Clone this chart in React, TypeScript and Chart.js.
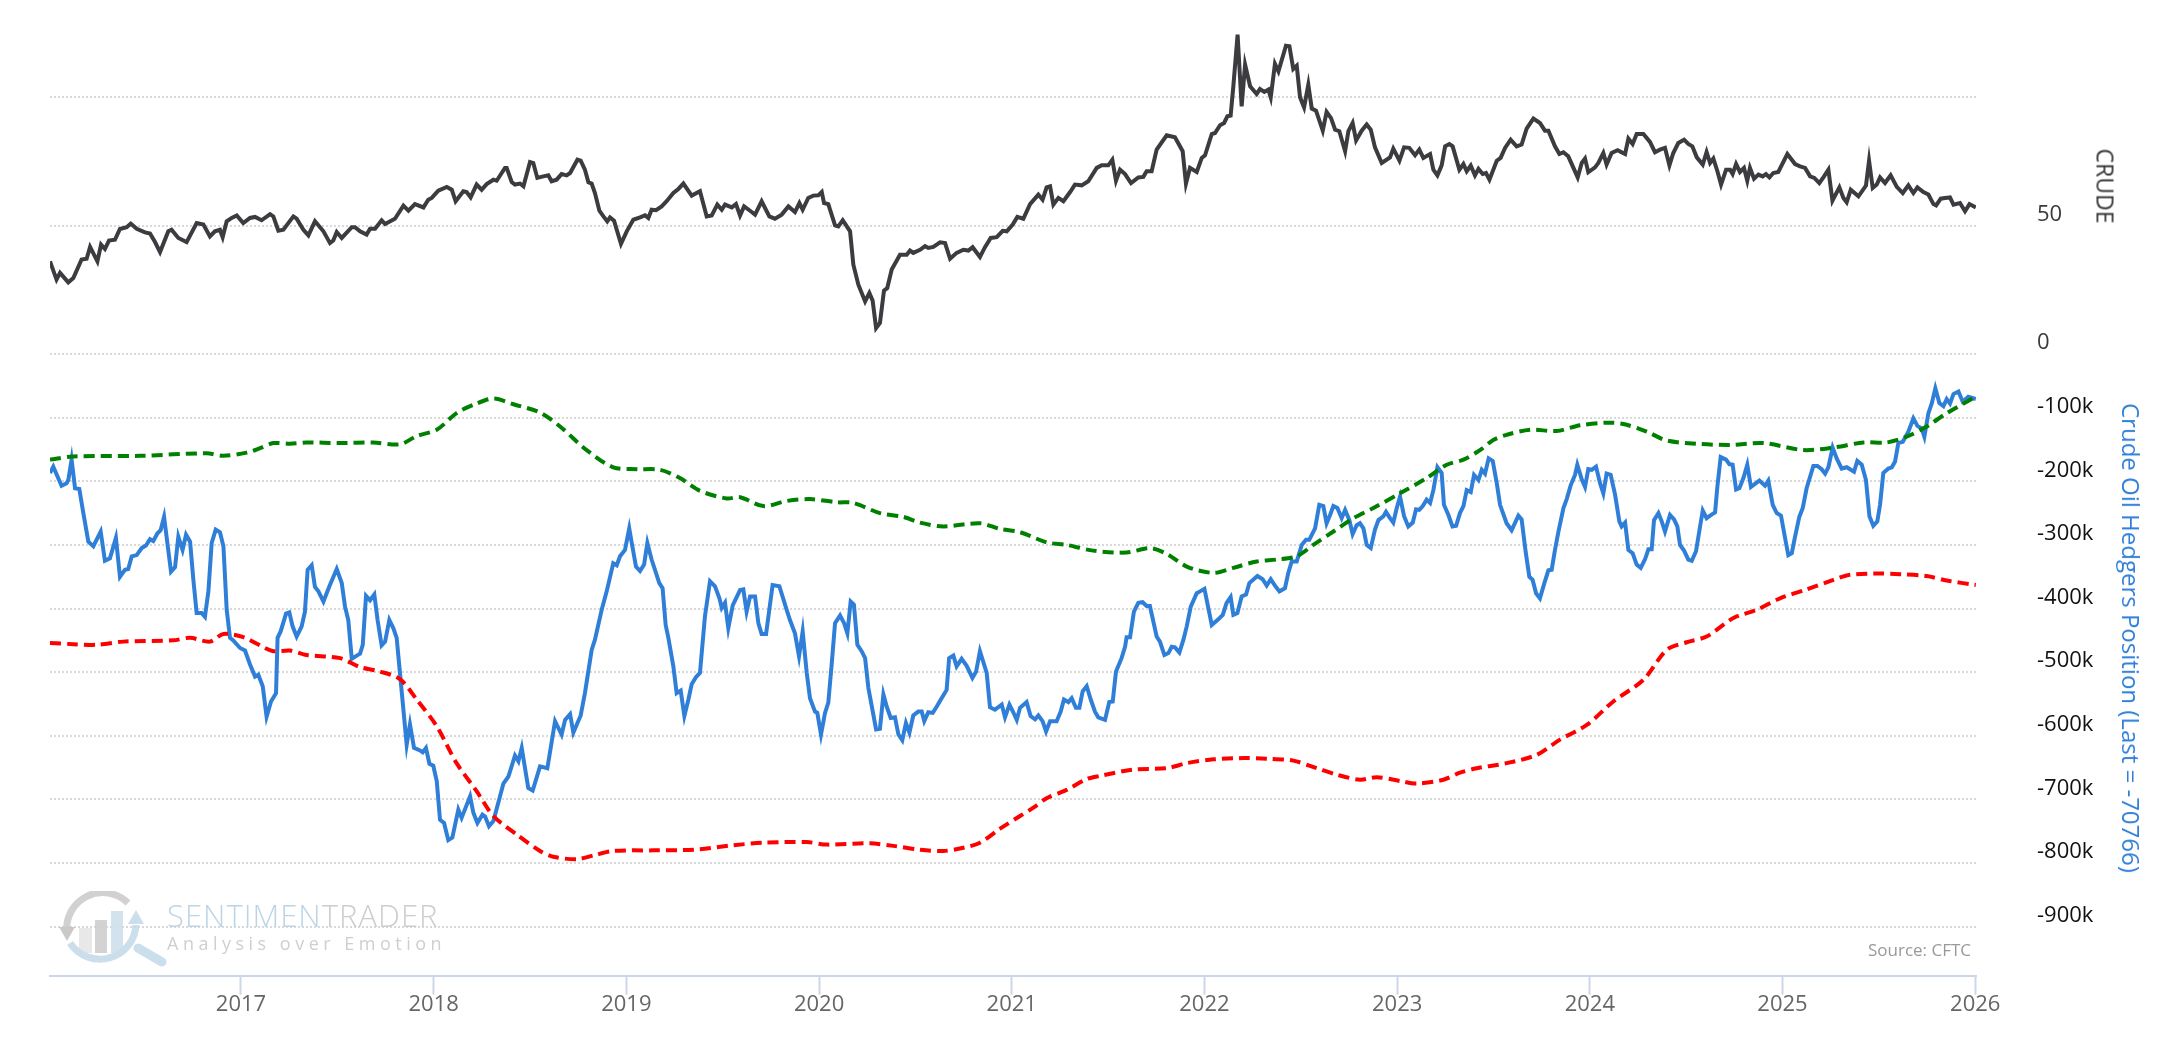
import React, { useEffect, useRef } from 'react';
import { Chart, registerables } from 'chart.js';

Chart.register(...registerables);

// ---------------- data ----------------
const yearTicks = [2017, 2018, 2019, 2020, 2021, 2022, 2023, 2024, 2025, 2026];
const crudeTicks = [0, 50, 100];
const crudeLabeled = [0, 50];
const hedgerTicks = [-100, -200, -300, -400, -500, -600, -700, -800, -900];
const lastHedger = -70766;

// [decimal year, price]
const crude: [number, number][] = [
  [2016.009, 36.1], [2016.043, 29.0], [2016.061, 31.6], [2016.104, 27.9], [2016.13, 29.6], [2016.173, 36.8], [2016.199, 37.1], [2016.217, 41.7], [2016.255, 36.1], [2016.274, 42.6], [2016.294, 40.9], [2016.315, 44.2], [2016.346, 44.5], [2016.372, 48.7], [2016.407, 49.4], [2016.428, 50.8], [2016.459, 48.8], [2016.502, 47.4], [2016.528, 46.9], [2016.554, 43.6], [2016.58, 39.7], [2016.623, 47.8], [2016.64, 48.4], [2016.675, 45.2], [2016.718, 43.6], [2016.77, 51.0], [2016.805, 50.4], [2016.839, 45.8], [2016.865, 47.8], [2016.891, 48.4], [2016.905, 45.5], [2016.926, 51.7], [2016.952, 53.0], [2016.978, 54.0],
  [2017.012, 51.0], [2017.047, 53.0], [2017.073, 53.4], [2017.107, 52.1], [2017.151, 54.5], [2017.168, 53.6], [2017.194, 48.0], [2017.22, 48.4], [2017.272, 53.6], [2017.289, 52.7], [2017.324, 48.4], [2017.35, 46.2], [2017.384, 51.7], [2017.428, 47.8], [2017.462, 43.2], [2017.479, 44.2], [2017.497, 47.5], [2017.523, 45.2], [2017.575, 49.4], [2017.592, 49.4], [2017.618, 47.8], [2017.652, 46.5], [2017.67, 48.8], [2017.696, 48.8], [2017.73, 52.1], [2017.748, 50.6], [2017.799, 52.7], [2017.843, 57.8], [2017.869, 55.8], [2017.903, 58.4], [2017.947, 57.1], [2017.972, 60.1], [2017.99, 60.8],
  [2018.024, 63.6], [2018.068, 65.1], [2018.094, 64.0], [2018.114, 59.5], [2018.154, 63.4], [2018.171, 63.1], [2018.192, 61.0], [2018.223, 66.0], [2018.249, 64.0], [2018.275, 66.2], [2018.31, 67.9], [2018.327, 67.5], [2018.37, 72.5], [2018.379, 72.5], [2018.405, 67.0], [2018.422, 66.0], [2018.448, 66.4], [2018.466, 65.3], [2018.5, 74.8], [2018.517, 74.4], [2018.538, 68.6], [2018.569, 69.2], [2018.595, 69.6], [2018.612, 67.3], [2018.638, 67.9], [2018.664, 70.1], [2018.69, 69.6], [2018.708, 70.5], [2018.746, 75.7], [2018.763, 75.3], [2018.785, 71.8], [2018.803, 66.9], [2018.82, 66.4], [2018.837, 62.7], [2018.86, 55.8], [2018.881, 53.6], [2018.901, 51.7], [2018.915, 53.2], [2018.936, 51.9], [2018.972, 42.9],
  [2019.002, 47.8], [2019.036, 52.3], [2019.071, 53.2], [2019.097, 54.0], [2019.114, 53.0], [2019.131, 56.2], [2019.154, 56.0], [2019.183, 57.5], [2019.209, 59.5], [2019.244, 62.7], [2019.27, 64.3], [2019.296, 66.4], [2019.339, 61.7], [2019.382, 63.4], [2019.417, 53.6], [2019.443, 54.0], [2019.472, 58.2], [2019.495, 56.2], [2019.512, 58.2], [2019.547, 57.1], [2019.569, 58.4], [2019.59, 53.9], [2019.611, 57.5], [2019.642, 55.8], [2019.668, 54.3], [2019.702, 59.5], [2019.742, 53.6], [2019.771, 52.7], [2019.806, 54.3], [2019.841, 57.5], [2019.875, 55.3], [2019.898, 58.8], [2019.915, 56.2], [2019.944, 60.8], [2019.97, 61.7], [2019.996, 61.8],
  [2020.014, 63.1], [2020.026, 58.8], [2020.048, 58.4], [2020.083, 50.1], [2020.1, 49.7], [2020.123, 52.1], [2020.161, 47.8], [2020.178, 34.8], [2020.204, 27.0], [2020.239, 20.5], [2020.261, 23.8], [2020.278, 20.8], [2020.296, 10.1], [2020.316, 12.1], [2020.337, 24.7], [2020.354, 25.7], [2020.377, 32.9], [2020.42, 38.7], [2020.455, 38.7], [2020.472, 40.3], [2020.489, 39.4], [2020.524, 40.6], [2020.55, 42.0], [2020.567, 41.3], [2020.593, 41.7], [2020.628, 43.5], [2020.654, 43.2], [2020.68, 37.1], [2020.714, 39.4], [2020.749, 40.6], [2020.775, 40.3], [2020.797, 41.6], [2020.835, 37.8], [2020.861, 41.6], [2020.891, 45.2], [2020.922, 45.5], [2020.953, 48.0], [2020.974, 47.8],
  [2021.005, 50.4], [2021.029, 53.4], [2021.06, 52.7], [2021.095, 58.4], [2021.138, 62.1], [2021.16, 60.1], [2021.181, 64.9], [2021.199, 65.3], [2021.216, 58.2], [2021.242, 60.8], [2021.268, 59.5], [2021.302, 63.0], [2021.328, 66.0], [2021.363, 65.7], [2021.397, 67.3], [2021.441, 72.5], [2021.467, 73.5], [2021.501, 73.5], [2021.522, 75.7], [2021.541, 67.5], [2021.562, 71.8], [2021.588, 70.1], [2021.619, 66.6], [2021.657, 68.8], [2021.683, 69.0], [2021.7, 71.2], [2021.726, 71.2], [2021.752, 79.6], [2021.804, 85.2], [2021.847, 84.4], [2021.887, 79.0], [2021.904, 66.4], [2021.925, 72.5], [2021.96, 70.9], [2021.986, 76.4],
  [2022.003, 77.4], [2022.038, 85.7], [2022.055, 86.1], [2022.081, 89.1], [2022.102, 90.0], [2022.119, 92.6], [2022.136, 92.9], [2022.15, 104.3], [2022.172, 124.4], [2022.193, 96.5], [2022.211, 112.7], [2022.237, 104.3], [2022.271, 101.3], [2022.288, 103.2], [2022.311, 102.1], [2022.332, 103.0], [2022.344, 100.0], [2022.366, 113.0], [2022.384, 110.1], [2022.423, 120.1], [2022.441, 119.9], [2022.461, 111.0], [2022.479, 112.3], [2022.496, 100.0], [2022.517, 96.1], [2022.539, 104.9], [2022.557, 95.6], [2022.579, 94.8], [2022.614, 87.0], [2022.634, 94.3], [2022.657, 91.9], [2022.678, 87.4], [2022.7, 86.8], [2022.73, 79.0], [2022.747, 86.8], [2022.769, 90.0], [2022.787, 83.2], [2022.816, 87.0], [2022.842, 89.4], [2022.863, 87.4], [2022.885, 80.5], [2022.92, 74.4], [2022.963, 76.6], [2022.98, 80.0],
  [2023.012, 75.3], [2023.036, 80.5], [2023.063, 80.3], [2023.093, 77.4], [2023.115, 79.6], [2023.136, 76.4], [2023.171, 77.9], [2023.188, 71.8], [2023.209, 69.6], [2023.231, 73.5], [2023.249, 80.9], [2023.271, 81.8], [2023.288, 80.9], [2023.323, 71.8], [2023.344, 74.0], [2023.361, 71.2], [2023.382, 73.4], [2023.404, 69.6], [2023.422, 72.1], [2023.444, 70.1], [2023.461, 70.5], [2023.479, 67.9], [2023.517, 75.3], [2023.537, 76.4], [2023.56, 80.3], [2023.589, 83.5], [2023.62, 80.9], [2023.646, 81.6], [2023.672, 87.8], [2023.707, 91.7], [2023.741, 90.0], [2023.767, 87.0], [2023.785, 87.0], [2023.819, 80.9], [2023.842, 77.9], [2023.863, 78.6], [2023.888, 77.0], [2023.937, 68.8], [2023.958, 74.4], [2023.975, 76.1], [2023.992, 70.8],
  [2024.027, 72.7], [2024.044, 74.4], [2024.07, 78.3], [2024.087, 73.8], [2024.113, 78.3], [2024.144, 79.4], [2024.183, 77.9], [2024.2, 83.9], [2024.222, 81.8], [2024.243, 85.7], [2024.278, 85.7], [2024.312, 82.6], [2024.338, 78.6], [2024.364, 79.6], [2024.39, 80.3], [2024.413, 73.5], [2024.433, 78.3], [2024.459, 82.2], [2024.489, 83.5], [2024.511, 81.8], [2024.532, 80.9], [2024.555, 76.6], [2024.586, 73.8], [2024.606, 78.7], [2024.624, 74.4], [2024.641, 76.1], [2024.662, 71.2], [2024.681, 66.0], [2024.707, 71.8], [2024.728, 71.8], [2024.741, 70.1], [2024.759, 74.0], [2024.779, 70.9], [2024.8, 72.5], [2024.817, 67.5], [2024.831, 72.5], [2024.852, 68.3], [2024.875, 69.9], [2024.897, 69.2], [2024.914, 70.1], [2024.932, 68.8], [2024.952, 70.5], [2024.978, 70.9],
  [2025.025, 77.9], [2025.065, 74.0], [2025.091, 73.1], [2025.117, 72.5], [2025.143, 69.2], [2025.165, 68.6], [2025.191, 66.6], [2025.212, 68.8], [2025.238, 71.8], [2025.259, 59.7], [2025.295, 64.9], [2025.316, 60.8], [2025.333, 59.1], [2025.354, 64.0], [2025.394, 61.4], [2025.433, 65.6], [2025.449, 75.3], [2025.468, 64.7], [2025.489, 66.0], [2025.506, 68.8], [2025.532, 66.6], [2025.561, 69.6], [2025.593, 65.1], [2025.624, 62.7], [2025.653, 65.7], [2025.679, 62.7], [2025.7, 64.9], [2025.731, 63.1], [2025.757, 62.1], [2025.783, 58.4], [2025.797, 57.9], [2025.821, 60.5], [2025.843, 60.8], [2025.869, 61.0], [2025.887, 58.2], [2025.921, 58.8], [2025.947, 55.6], [2025.97, 58.4], [2026.003, 57.1],
];

// [decimal year, thousands of contracts]
const hedgers: [number, number][] = [
  [2016.009, -187], [2016.026, -177], [2016.069, -207], [2016.095, -203], [2016.104, -198], [2016.121, -166], [2016.139, -211], [2016.161, -212], [2016.182, -250], [2016.208, -295], [2016.234, -302], [2016.272, -279], [2016.294, -325], [2016.32, -321], [2016.351, -289], [2016.372, -350], [2016.398, -339], [2016.415, -338], [2016.433, -318], [2016.459, -316], [2016.485, -305], [2016.507, -301], [2016.528, -291], [2016.545, -294], [2016.566, -282], [2016.583, -277], [2016.601, -256], [2016.614, -287], [2016.637, -342], [2016.658, -335], [2016.675, -287], [2016.697, -308], [2016.715, -284], [2016.736, -295], [2016.753, -355], [2016.77, -407], [2016.796, -407], [2016.813, -413], [2016.831, -373], [2016.848, -297], [2016.869, -276], [2016.891, -280], [2016.909, -302], [2016.926, -402], [2016.943, -446], [2016.96, -450], [2016.995, -462],
  [2017.021, -466], [2017.047, -488], [2017.073, -507], [2017.09, -504], [2017.113, -522], [2017.133, -570], [2017.156, -546], [2017.182, -533], [2017.19, -446], [2017.206, -436], [2017.234, -408], [2017.251, -406], [2017.268, -428], [2017.289, -444], [2017.315, -428], [2017.332, -405], [2017.346, -339], [2017.367, -332], [2017.384, -366], [2017.402, -373], [2017.428, -389], [2017.459, -365], [2017.497, -338], [2017.523, -360], [2017.54, -397], [2017.557, -418], [2017.575, -479], [2017.601, -474], [2017.618, -471], [2017.632, -457], [2017.649, -380], [2017.67, -387], [2017.692, -378], [2017.709, -418], [2017.73, -458], [2017.748, -452], [2017.77, -418], [2017.791, -431], [2017.808, -446], [2017.825, -501], [2017.843, -559], [2017.86, -614], [2017.877, -582], [2017.898, -619], [2017.929, -623], [2017.943, -626], [2017.96, -619], [2017.978, -644], [2017.998, -647],
  [2018.016, -671], [2018.033, -732], [2018.054, -737], [2018.076, -764], [2018.097, -760], [2018.128, -716], [2018.145, -729], [2018.189, -695], [2018.206, -721], [2018.227, -737], [2018.253, -724], [2018.267, -727], [2018.287, -742], [2018.31, -734], [2018.362, -675], [2018.388, -664], [2018.422, -631], [2018.44, -640], [2018.457, -619], [2018.491, -682], [2018.514, -686], [2018.552, -648], [2018.59, -651], [2018.63, -577], [2018.664, -598], [2018.682, -575], [2018.708, -566], [2018.725, -595], [2018.763, -568], [2018.785, -533], [2018.82, -465], [2018.837, -449], [2018.872, -402], [2018.898, -373], [2018.932, -329], [2018.95, -332], [2018.967, -318], [2018.993, -308],
  [2019.015, -274], [2019.028, -297], [2019.05, -334], [2019.071, -341], [2019.092, -331], [2019.109, -297], [2019.131, -323], [2019.157, -347], [2019.171, -360], [2019.188, -368], [2019.204, -426], [2019.218, -446], [2019.244, -491], [2019.261, -533], [2019.282, -529], [2019.301, -569], [2019.322, -543], [2019.339, -519], [2019.361, -508], [2019.382, -501], [2019.408, -412], [2019.434, -357], [2019.46, -365], [2019.483, -384], [2019.495, -399], [2019.512, -391], [2019.529, -431], [2019.552, -395], [2019.59, -371], [2019.607, -370], [2019.624, -405], [2019.642, -381], [2019.668, -381], [2019.685, -423], [2019.702, -440], [2019.725, -440], [2019.759, -363], [2019.794, -365], [2019.832, -402], [2019.849, -418], [2019.875, -439], [2019.896, -475], [2019.915, -436], [2019.936, -501], [2019.953, -541], [2019.979, -562], [2019.991, -564],
  [2020.01, -598], [2020.031, -564], [2020.048, -548], [2020.066, -486], [2020.083, -423], [2020.109, -411], [2020.13, -423], [2020.147, -439], [2020.164, -389], [2020.181, -394], [2020.199, -457], [2020.221, -467], [2020.239, -478], [2020.256, -525], [2020.296, -590], [2020.316, -589], [2020.334, -535], [2020.351, -554], [2020.372, -572], [2020.394, -571], [2020.412, -598], [2020.432, -607], [2020.451, -580], [2020.469, -595], [2020.489, -568], [2020.515, -562], [2020.533, -562], [2020.546, -577], [2020.567, -563], [2020.59, -564], [2020.611, -554], [2020.636, -541], [2020.662, -528], [2020.675, -478], [2020.697, -474], [2020.714, -491], [2020.74, -479], [2020.766, -490], [2020.796, -509], [2020.815, -499], [2020.835, -467], [2020.87, -501], [2020.887, -555], [2020.913, -559], [2020.948, -551], [2020.965, -571], [2020.988, -551],
  [2021.008, -563], [2021.026, -575], [2021.043, -556], [2021.077, -547], [2021.098, -569], [2021.121, -574], [2021.138, -568], [2021.16, -577], [2021.178, -593], [2021.199, -577], [2021.233, -577], [2021.254, -562], [2021.271, -543], [2021.294, -547], [2021.311, -541], [2021.333, -556], [2021.351, -556], [2021.368, -530], [2021.389, -522], [2021.41, -543], [2021.432, -562], [2021.449, -571], [2021.484, -575], [2021.506, -547], [2021.524, -546], [2021.541, -499], [2021.57, -478], [2021.588, -460], [2021.596, -445], [2021.614, -445], [2021.634, -405], [2021.657, -391], [2021.679, -390], [2021.7, -396], [2021.717, -396], [2021.752, -444], [2021.769, -452], [2021.792, -473], [2021.813, -470], [2021.83, -460], [2021.847, -461], [2021.87, -469], [2021.891, -449], [2021.908, -428], [2021.929, -397], [2021.96, -376], [2021.977, -373],
  [2022.0, -369], [2022.02, -399], [2022.038, -426], [2022.072, -417], [2022.095, -410], [2022.115, -391], [2022.136, -382], [2022.15, -410], [2022.171, -407], [2022.193, -381], [2022.216, -378], [2022.233, -360], [2022.275, -349], [2022.302, -354], [2022.323, -364], [2022.344, -354], [2022.366, -364], [2022.389, -373], [2022.418, -368], [2022.435, -344], [2022.453, -326], [2022.479, -326], [2022.505, -300], [2022.527, -292], [2022.544, -292], [2022.574, -274], [2022.596, -237], [2022.617, -239], [2022.634, -266], [2022.652, -253], [2022.669, -239], [2022.69, -242], [2022.712, -258], [2022.73, -245], [2022.752, -261], [2022.769, -283], [2022.79, -269], [2022.807, -266], [2022.825, -274], [2022.842, -300], [2022.863, -305], [2022.885, -276], [2022.903, -261], [2022.929, -255], [2022.942, -248], [2022.963, -258], [2022.98, -265], [2022.998, -242],
  [2023.015, -224], [2023.036, -255], [2023.058, -271], [2023.081, -265], [2023.098, -244], [2023.115, -245], [2023.133, -239], [2023.153, -229], [2023.171, -234], [2023.188, -214], [2023.209, -178], [2023.231, -187], [2023.243, -237], [2023.266, -253], [2023.287, -271], [2023.306, -270], [2023.326, -250], [2023.344, -239], [2023.361, -214], [2023.382, -217], [2023.399, -190], [2023.422, -198], [2023.439, -182], [2023.456, -188], [2023.475, -164], [2023.496, -168], [2023.517, -203], [2023.534, -237], [2023.568, -266], [2023.594, -277], [2023.629, -254], [2023.646, -260], [2023.667, -311], [2023.686, -350], [2023.703, -355], [2023.721, -376], [2023.741, -384], [2023.764, -360], [2023.785, -340], [2023.802, -339], [2023.819, -308], [2023.837, -279], [2023.863, -242], [2023.88, -228], [2023.901, -206], [2023.923, -190], [2023.935, -174], [2023.958, -197], [2023.975, -209], [2023.992, -181],
  [2024.01, -182], [2024.032, -177], [2024.053, -203], [2024.07, -219], [2024.087, -188], [2024.108, -190], [2024.131, -221], [2024.153, -263], [2024.165, -271], [2024.183, -265], [2024.2, -308], [2024.222, -313], [2024.243, -331], [2024.264, -336], [2024.286, -323], [2024.304, -307], [2024.321, -307], [2024.333, -261], [2024.356, -250], [2024.373, -263], [2024.39, -279], [2024.416, -253], [2024.437, -260], [2024.454, -271], [2024.468, -300], [2024.489, -309], [2024.511, -323], [2024.529, -325], [2024.551, -310], [2024.572, -271], [2024.586, -246], [2024.606, -258], [2024.624, -254], [2024.65, -249], [2024.662, -208], [2024.679, -162], [2024.707, -166], [2024.724, -173], [2024.741, -174], [2024.759, -213], [2024.776, -211], [2024.797, -195], [2024.817, -174], [2024.836, -209], [2024.862, -203], [2024.88, -199], [2024.909, -207], [2024.926, -199], [2024.949, -237], [2024.97, -250], [2024.992, -254],
  [2025.018, -297], [2025.03, -316], [2025.048, -313], [2025.065, -287], [2025.087, -256], [2025.105, -242], [2025.125, -211], [2025.16, -176], [2025.181, -176], [2025.203, -181], [2025.221, -188], [2025.238, -178], [2025.26, -147], [2025.281, -164], [2025.307, -180], [2025.333, -178], [2025.371, -185], [2025.388, -168], [2025.411, -174], [2025.433, -198], [2025.451, -255], [2025.471, -270], [2025.492, -263], [2025.506, -237], [2025.523, -187], [2025.549, -180], [2025.567, -178], [2025.584, -169], [2025.601, -140], [2025.624, -138], [2025.653, -122], [2025.679, -101], [2025.7, -113], [2025.722, -117], [2025.736, -130], [2025.757, -93], [2025.774, -78], [2025.793, -54], [2025.814, -77], [2025.835, -82], [2025.852, -71], [2025.869, -78], [2025.887, -63], [2025.913, -59], [2025.935, -75], [2025.964, -67], [2026.003, -70.766],
];

// upper (green) band, thousands
const upperBand: [number, number][] = [
  [2016.009, -166], [2016.13, -161], [2016.476, -160], [2016.822, -156], [2016.909, -160], [2017.03, -155], [2017.099, -148], [2017.168, -140], [2017.255, -141], [2017.341, -139], [2017.514, -140], [2017.687, -139], [2017.825, -142], [2017.912, -129], [2018.016, -119], [2018.119, -93], [2018.206, -80], [2018.31, -70], [2018.414, -79], [2018.552, -92], [2018.656, -114], [2018.794, -151], [2018.932, -178], [2019.054, -181], [2019.175, -182], [2019.278, -195], [2019.382, -215], [2019.521, -227], [2019.59, -225], [2019.711, -239], [2019.832, -231], [2019.953, -228], [2020.092, -233], [2020.178, -234], [2020.316, -250], [2020.438, -256], [2020.524, -265], [2020.645, -271], [2020.835, -266], [2020.939, -275], [2021.043, -280], [2021.181, -296], [2021.285, -300], [2021.423, -309], [2021.596, -312], [2021.717, -305], [2021.804, -314], [2021.908, -334], [2022.046, -344], [2022.15, -336], [2022.271, -326], [2022.375, -323], [2022.479, -318], [2022.565, -300], [2022.669, -279], [2022.773, -258], [2022.877, -242], [2023.015, -219], [2023.153, -195], [2023.257, -174], [2023.344, -166], [2023.43, -151], [2023.499, -135], [2023.568, -127], [2023.69, -119], [2023.828, -121], [2023.949, -112], [2024.087, -108], [2024.174, -110], [2024.295, -122], [2024.399, -136], [2024.555, -141], [2024.728, -143], [2024.901, -140], [2025.108, -151], [2025.264, -147], [2025.42, -139], [2025.541, -139], [2025.644, -130], [2025.748, -114], [2025.852, -93], [2026.003, -67],
];

// lower (red) band, thousands
const lowerBand: [number, number][] = [
  [2016.009, -454], [2016.13, -456], [2016.251, -457], [2016.389, -452], [2016.649, -450], [2016.736, -446], [2016.839, -452], [2016.909, -440], [2017.012, -445], [2017.099, -458], [2017.168, -467], [2017.255, -466], [2017.341, -473], [2017.514, -478], [2017.618, -492], [2017.722, -499], [2017.825, -511], [2017.912, -543], [2018.016, -585], [2018.119, -643], [2018.223, -687], [2018.31, -726], [2018.431, -755], [2018.552, -781], [2018.621, -790], [2018.742, -794], [2018.829, -788], [2018.932, -781], [2019.14, -780], [2019.348, -779], [2019.555, -772], [2019.711, -768], [2019.936, -767], [2020.04, -771], [2020.265, -769], [2020.386, -773], [2020.524, -779], [2020.645, -781], [2020.749, -776], [2020.835, -768], [2020.939, -746], [2021.043, -726], [2021.112, -713], [2021.181, -698], [2021.285, -685], [2021.389, -668], [2021.458, -663], [2021.631, -653], [2021.804, -651], [2021.908, -643], [2022.046, -637], [2022.202, -635], [2022.323, -636], [2022.461, -639], [2022.583, -651], [2022.686, -661], [2022.807, -669], [2022.894, -665], [2023.015, -671], [2023.101, -675], [2023.24, -669], [2023.326, -658], [2023.413, -651], [2023.568, -643], [2023.724, -630], [2023.845, -606], [2023.984, -583], [2024.122, -546], [2024.278, -512], [2024.399, -465], [2024.503, -453], [2024.606, -444], [2024.745, -415], [2024.866, -402], [2024.987, -384], [2025.125, -370], [2025.264, -355], [2025.35, -347], [2025.506, -345], [2025.61, -346], [2025.748, -349], [2025.852, -356], [2026.003, -363],
];

// ---------------- layout constants ----------------
const W = 2162;
const H = 1046;
const FONT = '"Open Sans", "Noto Sans", sans-serif';

const toXY = (arr: [number, number][]) => arr.map(([x, y]) => ({ x, y }));

export default function App() {
  const canvasRef = useRef<HTMLCanvasElement | null>(null);

  useEffect(() => {
    const canvas = canvasRef.current;
    if (!canvas) return;

    // label column sits 61px right of the plot; an invisible tick pushes it there
    const gridY = {
      color: '#d9d9d9',
      lineWidth: 2,
      drawTicks: true,
      tickLength: 61,
      tickColor: 'rgba(0,0,0,0)',
      tickWidth: 0,
    };

    const chart = new Chart(canvas, {
      type: 'line',
      data: {
        datasets: [
          {
            label: 'Crude',
            data: toXY(crude),
            xAxisID: 'x',
            yAxisID: 'yCrude',
            borderColor: '#3c3c40',
            borderWidth: 4,
            pointRadius: 0,
            tension: 0,
            order: 1,
          },
          {
            label: 'Crude Oil Hedgers Position',
            data: toXY(hedgers),
            xAxisID: 'x',
            yAxisID: 'yHedge',
            borderColor: '#2f7fd9',
            borderWidth: 4,
            pointRadius: 0,
            tension: 0,
            order: 4,
          },
          {
            label: 'Upper',
            data: toXY(upperBand),
            xAxisID: 'x',
            yAxisID: 'yHedge',
            borderColor: '#008000',
            borderWidth: 4,
            borderDash: [11, 6],
            pointRadius: 0,
            tension: 0.3,
            order: 2,
          },
          {
            label: 'Lower',
            data: toXY(lowerBand),
            xAxisID: 'x',
            yAxisID: 'yHedge',
            borderColor: '#ff0000',
            borderWidth: 4,
            borderDash: [11, 6],
            pointRadius: 0,
            tension: 0.3,
            order: 3,
          },
        ],
      },
      options: {
        animation: false,
        responsive: false,
        maintainAspectRatio: false,
        devicePixelRatio: 1,
        events: [],
        layout: { padding: { left: 50, top: 19, right: 0, bottom: 0 } },
        plugins: {
          legend: { display: false },
          tooltip: { enabled: false },
          title: { display: false },
        },
        scales: {
          x: {
            type: 'linear',
            position: 'bottom',
            min: 2016.009,
            max: 2026.004,
            afterBuildTicks: (s: any) => {
              s.ticks = yearTicks.map((v) => ({ value: v }));
            },
            afterFit: (s: any) => {
              s.height = 70.3;
            },
            grid: {
              drawOnChartArea: false,
              drawTicks: true,
              tickLength: 19,
              tickColor: '#ccd6eb',
              tickWidth: 2,
              color: '#ccd6eb',
            },
            border: { display: true, color: '#ccd6eb', width: 2 },
            ticks: {
              autoSkip: false,
              maxRotation: 0,
              padding: -3,
              color: '#666666',
              font: { family: FONT, size: 22 },
              callback: (v: any) => String(v),
            },
          },
          yCrude: {
            type: 'linear',
            position: 'right',
            stack: 'panes',
            stackWeight: 335,
            min: 0,
            max: 130.5,
            afterBuildTicks: (s: any) => {
              s.ticks = crudeTicks.map((v) => ({ value: v }));
            },
            afterFit: (s: any) => {
              s.width = 186;
            },
            grid: gridY,
            border: { display: false, dash: [2, 2] },
            ticks: {
              autoSkip: false,
              padding: 0,
              crossAlign: 'near',
              labelOffset: -11,
              color: '#3a3a3a',
              font: { family: FONT, size: 22 },
              callback: (v: any) => (crudeLabeled.includes(v) ? String(v) : ''),
            },
          },
          yHedge: {
            type: 'linear',
            position: 'right',
            stack: 'panes',
            stackWeight: 621.7,
            min: -977,
            max: 0,
            afterBuildTicks: (s: any) => {
              s.ticks = hedgerTicks.map((v) => ({ value: v }));
            },
            afterFit: (s: any) => {
              s.width = 186;
            },
            grid: gridY,
            border: { display: false, dash: [2, 2] },
            ticks: {
              autoSkip: false,
              padding: 0,
              crossAlign: 'near',
              labelOffset: -11,
              color: '#111111',
              font: { family: FONT, size: 22 },
              callback: (v: any) => `${v}k`,
            },
          },
        },
      } as any,
    });

    return () => {
      chart.destroy();
    };
  }, []);

  const rotated = (
    text: string,
    cx: number,
    cy: number,
    size: number,
    color: string
  ) => (
    <div
      style={{
        position: 'absolute',
        left: cx,
        top: cy,
        transform: 'translate(-50%, -50%) rotate(90deg)',
        whiteSpace: 'nowrap',
        fontFamily: FONT,
        fontSize: size,
        lineHeight: 1,
        color,
      }}
    >
      {text}
    </div>
  );

  return (
    <div
      style={{
        position: 'fixed',
        left: 0,
        top: 0,
        width: W,
        height: H,
        background: '#ffffff',
        overflow: 'hidden',
        fontFamily: FONT,
      }}
    >
      <canvas
        ref={canvasRef}
        width={W}
        height={H}
        style={{ position: 'absolute', left: 0, top: 0, width: W, height: H }}
      />

      {/* watermark */}
      <svg
        width={110}
        height={76}
        viewBox="0 0 110 76"
        style={{ position: 'absolute', left: 58, top: 891, opacity: 0.9 }}
      >
        <rect x={21} y={37} width={13} height={25} fill="#e6e6e6" />
        <rect x={37} y={29} width={12} height={33} fill="#cfcfcf" />
        <rect x={53} y={20} width={12} height={42} fill="#cfe0ec" />
        <path d="M 9 42 A 36 36 0 0 1 70 12" stroke="#cccccc" strokeWidth={7} fill="none" />
        <polygon points="1,36 17,36 9,50" fill="#c4c4c4" />
        <path d="M 12 52 A 36 36 0 0 0 78 34" stroke="#c6dbe9" strokeWidth={7} fill="none" />
        <polygon points="70,33 86,33 78,19" fill="#c6dbe9" />
        <line x1={80} y1={57} x2={104} y2={71} stroke="#c6dbe9" strokeWidth={9} strokeLinecap="round" />
      </svg>
      <div
        style={{
          position: 'absolute',
          left: 167,
          top: 900,
          fontFamily: FONT,
          fontSize: 31,
          fontWeight: 300,
          lineHeight: 1,
          letterSpacing: 1,
          whiteSpace: 'nowrap',
        }}
      >
        <span style={{ color: '#bcd5e6' }}>SENTIMEN</span>
        <span style={{ color: '#cdcdcd' }}>TRADER</span>
      </div>
      <div
        style={{
          position: 'absolute',
          left: 167,
          top: 934,
          fontFamily: FONT,
          fontSize: 18,
          lineHeight: 1,
          letterSpacing: 4.5,
          color: '#cfcfcf',
          whiteSpace: 'nowrap',
        }}
      >
        Analysis over Emotion
      </div>

      {/* credits */}
      <div
        style={{
          position: 'absolute',
          right: W - 1971,
          top: 940,
          fontFamily: FONT,
          fontSize: 17,
          lineHeight: '20px',
          color: '#999999',
          whiteSpace: 'nowrap',
        }}
      >
        Source: CFTC
      </div>

      {/* axis titles */}
      {rotated('CRUDE', 2105, 186, 23, '#333333')}
      {rotated(`Crude Oil Hedgers Position (Last = ${lastHedger})`, 2131, 638, 24, '#2f7fd9')}
    </div>
  );
}
